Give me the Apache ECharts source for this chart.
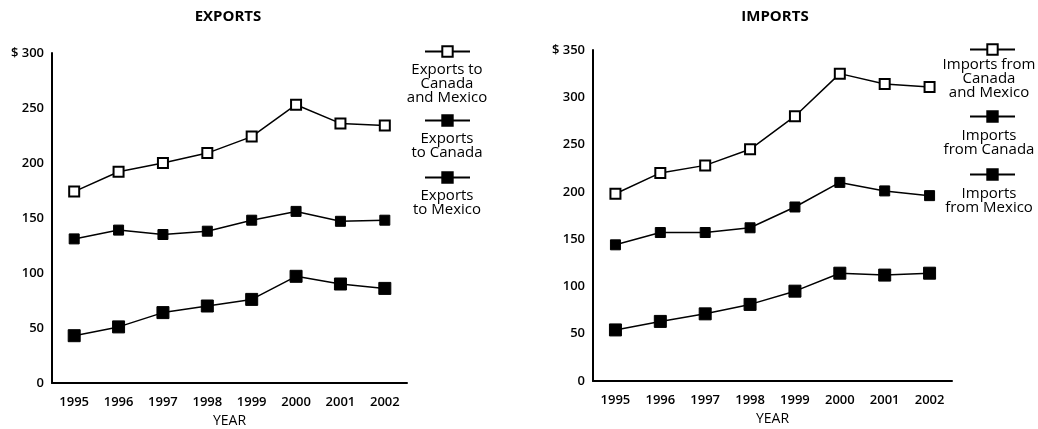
<!DOCTYPE html>
<html>
<head>
<meta charset="utf-8">
<script src="https://cdn.jsdelivr.net/npm/echarts@6/dist/echarts.min.js"></script>
<style>
  html, body { margin: 0; padding: 0; background: #fff; }
  #chart { width: 1038px; height: 429px; }
</style>
</head>
<body>
<div id="chart"></div>
<script>
// 数据（从原图读取，单位：十亿美元）
const years = ['1995', '1996', '1997', '1998', '1999', '2000', '2001', '2002']

const exportsTotal = [174, 192, 200, 209, 224, 253, 236, 234]
const exportsCanada = [131, 139, 135, 138, 148, 156, 147, 148]
const exportsMexico = [43, 51, 64, 70, 76, 97, 90, 86]

const importsTotal = [198, 220, 228, 245, 280, 325, 314, 311]
const importsCanada = [144, 157, 157, 162, 184, 210, 201, 196]
const importsMexico = [54, 63, 71, 81, 95, 114, 112, 114]

const exportsTicks = [0, 50, 100, 150, 200, 250, 300]
const importsTicks = [0, 50, 100, 150, 200, 250, 300, 350]

const exportNames = ['Exports to\nCanada\nand Mexico', 'Exports\nto Canada', 'Exports\nto Mexico']
const importNames = ['Imports from\nCanada\nand Mexico', 'Imports\nfrom Canada', 'Imports\nfrom Mexico']

const font = 'Open Sans'

// 三种线条样式：空心方块、实心方块、大实心方块
const styles = [
  { symbolSize: 10, itemStyle: { color: '#fff', borderColor: '#000', borderWidth: 2 } },
  { symbolSize: 10, itemStyle: { color: '#000', borderColor: '#000', borderWidth: 1 } },
  { symbolSize: 12, itemStyle: { color: '#000', borderColor: '#000', borderWidth: 1 } }
]

const makeSeries = (names, datas, idx) =>
  names.map((name, i) => ({
    name: name,
    type: 'line',
    xAxisIndex: idx,
    yAxisIndex: idx,
    data: datas[i],
    symbol: 'rect',
    symbolSize: styles[i].symbolSize,
    itemStyle: styles[i].itemStyle,
    lineStyle: { color: '#000', width: 1.5 },
    z: 3 + i,
    animation: false
  }))

const yAxisFor = (ticks) => ({
  type: 'value',
  min: ticks[0],
  max: ticks[ticks.length - 1],
  interval: ticks[1] - ticks[0],
  splitLine: { show: false },
  axisTick: { show: false },
  axisLine: { show: true, lineStyle: { color: '#000', width: 2 } },
  axisLabel: {
    color: '#000',
    fontFamily: font,
    fontSize: 13,
    fontWeight: 600,
    margin: 8,
    formatter: (v) => (v === ticks[ticks.length - 1] ? '$ ' + v : String(v))
  }
})

const xAxisFor = (gridIndex) => ({
  type: 'category',
  gridIndex: gridIndex,
  data: years,
  boundaryGap: true,
  axisTick: { show: false },
  axisLine: { lineStyle: { color: '#000', width: 2 } },
  axisLabel: { color: '#000', fontFamily: font, fontSize: 13, fontWeight: 600, margin: 13 },
  name: 'YEAR',
  nameLocation: 'middle',
  nameGap: 31,
  nameTextStyle: { color: '#000', fontFamily: font, fontSize: 14 }
})

// 图例：只画图标，文字用 graphic 居中放在图标下方
const legendFor = (name, left, top) => ({
  data: [name],
  left: left,
  top: top,
  padding: 0,
  itemWidth: 45,
  itemHeight: 13,
  itemGap: 0,
  selectedMode: false,
  formatter: () => '',
  textStyle: { fontSize: 1 }
})

const legendText = (text, x, y) => ({
  type: 'text',
  x: x,
  y: y,
  style: {
    text: text,
    fill: '#000',
    font: '15px "' + font + '"',
    lineHeight: 14,
    align: 'center',
    verticalAlign: 'top'
  }
})

const titleText = (text, x) => ({
  type: 'text',
  x: x,
  y: 9,
  style: { text: text, fill: '#000', font: 'bold 15px "' + font + '"', align: 'center' }
})

// 图例图标中心 y：左 52/121/178，右 50/117/175
const leftLegendTops = [45, 114, 171]
const leftTextTops = [63, 132, 189]
const rightLegendTops = [43, 110, 168]
const rightTextTops = [58, 129, 187]

const option = {
  backgroundColor: '#fff',
  grid: [
    { left: 52, top: 53, width: 355, height: 330, outerBoundsMode: 'none' },
    { left: 593, top: 50, width: 359, height: 331, outerBoundsMode: 'none' }
  ],
  xAxis: [xAxisFor(0), xAxisFor(1)],
  yAxis: [Object.assign({ gridIndex: 0 }, yAxisFor(exportsTicks)), Object.assign({ gridIndex: 1 }, yAxisFor(importsTicks))],
  legend: [
    ...exportNames.map((n, i) => legendFor(n, 424, leftLegendTops[i])),
    ...importNames.map((n, i) => legendFor(n, 969, rightLegendTops[i]))
  ],
  series: [
    ...makeSeries(exportNames, [exportsTotal, exportsCanada, exportsMexico], 0),
    ...makeSeries(importNames, [importsTotal, importsCanada, importsMexico], 1)
  ],
  graphic: [
    titleText('EXPORTS', 228),
    titleText('IMPORTS', 775),
    ...exportNames.map((n, i) => legendText(n, 447, leftTextTops[i])),
    ...importNames.map((n, i) => legendText(n, 989, rightTextTops[i]))
  ]
}

const myChart = echarts.init(document.getElementById('chart'))
myChart.setOption(option)
</script>
</body>
</html>
